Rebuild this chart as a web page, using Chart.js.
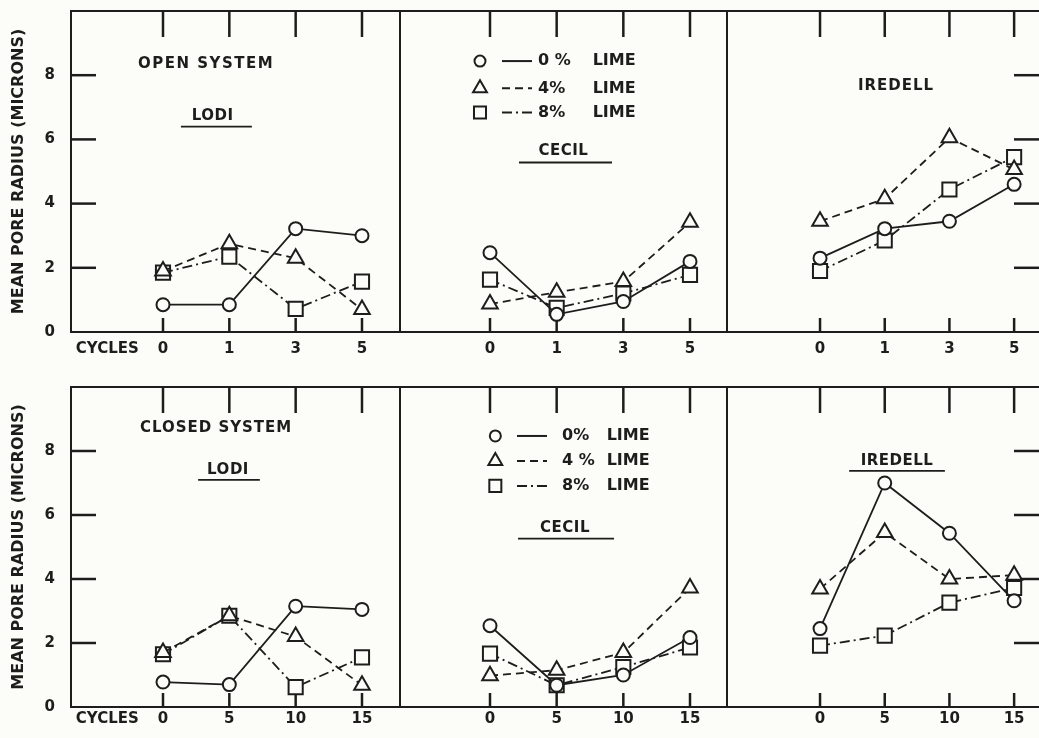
<!DOCTYPE html>
<html>
<head>
<meta charset="utf-8">
<script src="https://cdn.jsdelivr.net/npm/chart.js@4.4.0/dist/chart.umd.min.js"></script>
<style>
html, body { margin: 0; padding: 0; background: #fcfcf8; overflow: hidden; }
#page { position: relative; width: 1039px; height: 738px; overflow: hidden; }
#page canvas { position: absolute; }
</style>
</head>
<body>
<div id="page"></div>
<script>
// x axis: freeze-thaw cycles
var cyclesOpen = ["0", "1", "3", "5"];
var cyclesClosed = ["0", "5", "10", "15"];
var limeLabels = ["LIME", "LIME", "LIME"];
var limePct = ["0 %", "4%", "8%"];
var limePctClosed = ["0%", "4 %", "8%"];
var yTicks = [0, 2, 4, 6, 8];

// mean pore radius (microns) - open system
var lodiOpen0 = [0.85, 0.85, 3.22, 3.0];
var lodiOpen4 = [1.9, 2.75, 2.3, 0.7];
var lodiOpen8 = [1.85, 2.35, 0.72, 1.57];
var cecilOpen0 = [2.47, 0.55, 0.95, 2.2];
var cecilOpen4 = [0.87, 1.24, 1.57, 3.42];
var cecilOpen8 = [1.63, 0.75, 1.2, 1.78];
var iredellOpen0 = [2.3, 3.22, 3.45, 4.6];
var iredellOpen4 = [3.45, 4.15, 6.05, 5.06];
var iredellOpen8 = [1.9, 2.85, 4.44, 5.45];

// closed system
var lodiClosed0 = [0.78, 0.7, 3.15, 3.05];
var lodiClosed4 = [1.7, 2.85, 2.2, 0.68];
var lodiClosed8 = [1.65, 2.85, 0.62, 1.55];
var cecilClosed0 = [2.54, 0.68, 1.0, 2.17];
var cecilClosed4 = [0.98, 1.15, 1.7, 3.72];
var cecilClosed8 = [1.67, 0.68, 1.25, 1.86];
var iredellClosed0 = [2.45, 7.0, 5.43, 3.32];
var iredellClosed4 = [3.69, 5.45, 4.0, 4.12];
var iredellClosed8 = [1.92, 2.23, 3.26, 3.72];

var ink = "#1d1d1b";
var paper = "#fcfcf8";
var font = '"DejaVu Sans", sans-serif';

// 0%, 4%, 8% lime
var series = [
    { style: "circle",   radius: 6.5, legendRadius: 5.5, dash: [] },
    { style: "triangle", radius: 9,   legendRadius: 8,   dash: [8, 5] },
    { style: "rect",     radius: 10,  legendRadius: 8.5, dash: [10, 4, 2, 4] }
];

// box = frame in page pixels, min/max = x range in category units
var panels = [
    { row: 0, box: [71, 11, 400, 332], min: -1.387, max: 3.573, labels: cyclesOpen,
      data: [lodiOpen0, lodiOpen4, lodiOpen8], yAxis: true, leftTicks: true,
      texts: [["OPEN SYSTEM", 0.65, 8.34, 1.5], ["LODI", 0.75, 6.72, 0.5]],
      lines: [[0.27, 1.34, 6.4]] },
    { row: 0, box: [400, 11, 727, 332], min: -1.35, max: 3.555, labels: cyclesOpen,
      data: [cecilOpen0, cecilOpen4, cecilOpen8],
      texts: [["CECIL", 1.1, 5.63, 0.5]], lines: [[0.435, 1.83, 5.28]],
      legend: { x: -0.15, y: [8.44, 7.59, 6.84], l1: 0.18, l2: 0.63, t1: 0.72, t2: 1.54, pct: limePct } },
    { row: 0, box: [727, 11, 1040, 332], min: -1.438, max: 3.40, labels: cyclesOpen,
      data: [iredellOpen0, iredellOpen4, iredellOpen8], rightTicks: true,
      texts: [["IREDELL", 1.175, 7.66, 1]], lines: [] },
    { row: 1, box: [71, 387, 400, 707], min: -1.387, max: 3.573, labels: cyclesClosed,
      data: [lodiClosed0, lodiClosed4, lodiClosed8], yAxis: true, leftTicks: true,
      texts: [["CLOSED SYSTEM", 0.8, 8.72, 1], ["LODI", 0.98, 7.41, 0.5]],
      lines: [[0.53, 1.46, 7.1]] },
    { row: 1, box: [400, 387, 727, 707], min: -1.35, max: 3.555, labels: cyclesClosed,
      data: [cecilClosed0, cecilClosed4, cecilClosed8],
      texts: [["CECIL", 1.125, 5.58, 0.5]], lines: [[0.42, 1.86, 5.26]],
      legend: { x: 0.08, y: [8.47, 7.69, 6.91], l1: 0.405, l2: 0.855, t1: 1.08, t2: 1.75, pct: limePctClosed } },
    { row: 1, box: [727, 387, 1040, 707], min: -1.438, max: 3.40, labels: cyclesClosed,
      data: [iredellClosed0, iredellClosed4, iredellClosed8], rightTicks: true,
      texts: [["IREDELL", 1.19, 7.69, 0.5]], lines: [[0.45, 1.93, 7.38]] }
];

function seg(ctx, x1, y1, x2, y2) {
    ctx.beginPath();
    ctx.moveTo(x1, y1);
    ctx.lineTo(x2, y2);
    ctx.stroke();
}

var decor = {
    id: "decor",
    beforeDatasetsDraw: function(chart, args, o) {
        var ctx = chart.ctx, a = chart.chartArea;
        var xs = chart.scales.x, ys = chart.scales.y;
        ctx.save();
        ctx.strokeStyle = ink;
        ctx.lineWidth = 2;
        ctx.strokeRect(a.left, a.top, a.right - a.left, a.bottom - a.top);
        ctx.lineWidth = 2.5;
        // tick marks pointing inward
        for (var i = 0; i < 4; i++) {
            var px = xs.getPixelForValue(i);
            seg(ctx, px, a.top, px, a.top + 26);
            seg(ctx, px, a.bottom, px, a.bottom - 14);
        }
        yTicks.slice(1).forEach(function(v) {
            var py = ys.getPixelForValue(v);
            if (o.leftTicks) seg(ctx, a.left, py, a.left + 25, py);
            if (o.rightTicks) seg(ctx, a.right, py, a.right - 26, py);
        });
        ctx.restore();
    },
    afterDraw: function(chart, args, o) {
        var ctx = chart.ctx;
        var xs = chart.scales.x, ys = chart.scales.y;
        ctx.save();
        ctx.fillStyle = ink;
        ctx.strokeStyle = ink;
        ctx.textBaseline = "middle";
        ctx.font = "bold 15px " + font;
        ctx.textAlign = "center";
        (o.texts || []).forEach(function(t) {
            ctx.letterSpacing = t[3] + "px";
            ctx.fillText(t[0], xs.getPixelForValue(t[1]), ys.getPixelForValue(t[2]));
        });
        ctx.letterSpacing = "0px";
        ctx.lineWidth = 1.8;
        (o.lines || []).forEach(function(l) {
            var py = ys.getPixelForValue(l[2]);
            seg(ctx, xs.getPixelForValue(l[0]), py, xs.getPixelForValue(l[1]), py);
        });
        var lg = o.legend;
        if (lg) {
            series.forEach(function(s, i) {
                var py = ys.getPixelForValue(lg.y[i]);
                ctx.lineWidth = 2;
                ctx.setLineDash(s.dash);
                seg(ctx, xs.getPixelForValue(lg.l1), py, xs.getPixelForValue(lg.l2), py);
                ctx.setLineDash([]);
                ctx.fillStyle = paper;
                Chart.helpers.drawPoint(ctx, { pointStyle: s.style, radius: s.legendRadius, rotation: 0, borderWidth: 2 },
                    xs.getPixelForValue(lg.x), py);
                ctx.fillStyle = ink;
                ctx.textAlign = "left";
                ctx.font = "bold 16px " + font;
                ctx.fillText(lg.pct[i], xs.getPixelForValue(lg.t1), py);
                ctx.fillText(limeLabels[i], xs.getPixelForValue(lg.t2), py);
            });
        }
        ctx.restore();
    }
};

Chart.defaults.font.family = font;
Chart.defaults.font.weight = "bold";
Chart.defaults.color = ink;

var page = document.getElementById("page");

panels.forEach(function(p) {
    var rowTop = p.row === 0 ? 0 : 369;
    var padL = p.yAxis ? 0 : 1;
    var axisW = p.yAxis ? 71 : 0;
    var left = p.box[0] - axisW - padL;
    var width = p.box[2] - left + 1;
    var height = 369;
    var xAxisH = rowTop + height - p.box[3];

    var cv = document.createElement("canvas");
    cv.width = width;
    cv.height = height;
    cv.style.left = left + "px";
    cv.style.top = rowTop + "px";
    page.appendChild(cv);

    var tickVals = p.yAxis ? [-0.84, 0, 1, 2, 3] : [0, 1, 2, 3];

    var datasets = p.data.map(function(vals, i) {
        var s = series[i];
        return {
            label: limePct[i] + " LIME",
            data: vals.map(function(v, k) { return { x: k, y: v }; }),
            borderColor: ink,
            borderWidth: 1.8,
            borderDash: s.dash,
            pointStyle: s.style,
            pointRadius: s.radius,
            pointBorderWidth: 2,
            pointBorderColor: ink,
            pointBackgroundColor: paper,
            fill: false,
            tension: 0,
            clip: false
        };
    });

    new Chart(cv, {
        type: "line",
        data: { datasets: datasets },
        options: {
            responsive: false,
            animation: false,
            layout: { autoPadding: false, padding: { left: padL, right: 1, top: p.box[1] - rowTop, bottom: 0 } },
            plugins: {
                legend: { display: false },
                tooltip: { enabled: false },
                decor: p
            },
            scales: {
                x: {
                    type: "linear",
                    min: p.min,
                    max: p.max,
                    grid: { display: false },
                    border: { display: false },
                    afterBuildTicks: function(s) {
                        s.ticks = tickVals.map(function(v) { return { value: v }; });
                    },
                    afterFit: function(s) {
                        s.height = xAxisH;
                        s.paddingLeft = 0;
                        s.paddingRight = 0;
                    },
                    ticks: {
                        autoSkip: false,
                        maxRotation: 0,
                        padding: p.row === 0 ? 0 : -5,
                        font: { size: 15, weight: "bold" },
                        callback: function(v) { return v < 0 ? "CYCLES" : p.labels[v]; }
                    }
                },
                y: {
                    display: !!p.yAxis,
                    min: 0,
                    max: 10,
                    grid: { display: false },
                    border: { display: false },
                    afterBuildTicks: function(s) {
                        s.ticks = yTicks.map(function(v) { return { value: v }; });
                    },
                    afterFit: function(s) {
                        s.width = axisW;
                        s.paddingTop = 0;
                        s.paddingBottom = 0;
                    },
                    ticks: { padding: 8, font: { size: 15, weight: "bold" } },
                    title: {
                        display: true,
                        text: "MEAN PORE RADIUS (MICRONS)",
                        font: { size: 16, weight: "bold" },
                        padding: { top: 9, bottom: 0 }
                    }
                }
            }
        },
        plugins: [decor]
    });
});
</script>
</body>
</html>
